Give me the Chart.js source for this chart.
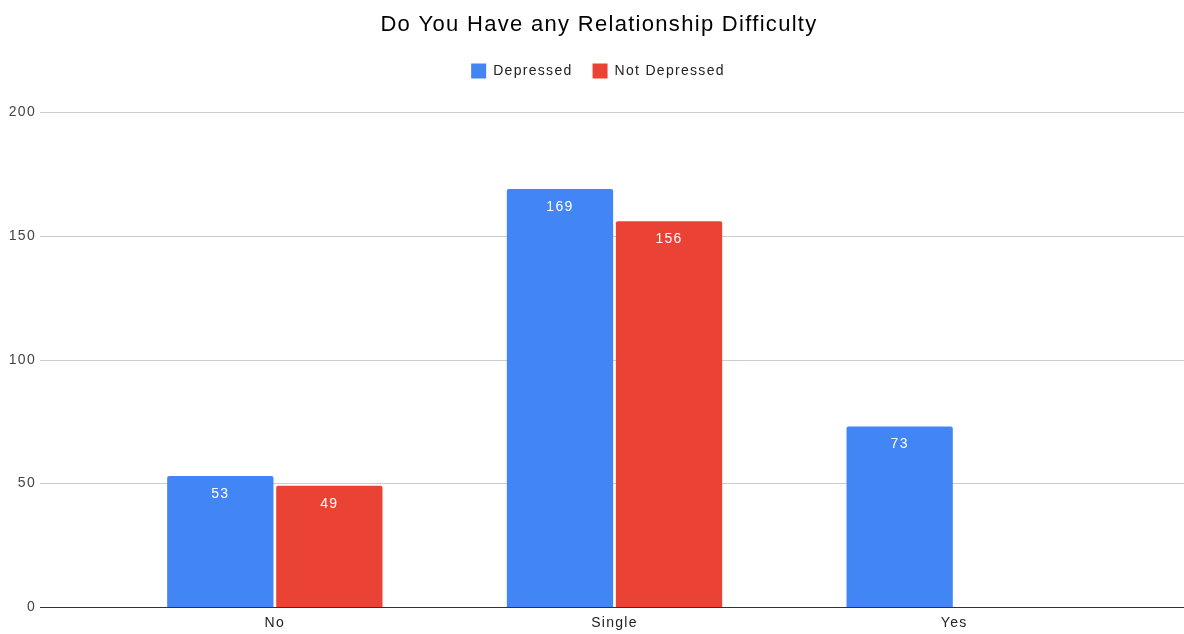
<!DOCTYPE html>
<html>
<head>
<meta charset="utf-8">
<script src="https://cdn.jsdelivr.net/npm/chart.js@4.4.1/dist/chart.umd.min.js"></script>
<style>
  html, body { margin: 0; padding: 0; background: #fff; }
  #wrap { width: 1184px; height: 634px; }
</style>
</head>
<body>
<div id="wrap"><canvas id="chart" width="1184" height="634"></canvas></div>
<script>
// Chart data
const categories = ['No', 'Single', 'Yes'];
const depressed = [53, 169, 73];
const notDepressed = [49, 156, null];
const yTicks = [0, 50, 100, 150, 200];

const FONT = '"Liberation Sans", Arial, sans-serif';
const SPACING = '1.3px';

// The original text is set a little wide
const wideText = {
    id: 'wideText',
    beforeLayout(chart) { chart.ctx.letterSpacing = SPACING; },
    beforeDraw(chart) { chart.ctx.letterSpacing = SPACING; }
};

// Title and legend sit a bit right of the canvas centre in the original
const nudgeHeader = {
    id: 'nudgeHeader',
    afterLayout(chart) {
        if (chart.titleBlock) chart.titleBlock.left += 14;
        if (chart.legend) chart.legend.left += 12;
    }
};

// Grid lines that run the full width, like the original
const fullGrid = {
    id: 'fullGrid',
    beforeDatasetsDraw(chart) {
        const ctx = chart.ctx;
        const y = chart.scales.y;
        ctx.save();
        yTicks.forEach(v => {
            const py = Math.round(y.getPixelForValue(v)) + 0.5;
            ctx.strokeStyle = v === 0 ? '#333333' : '#cccccc';
            ctx.lineWidth = 1;
            ctx.beginPath();
            ctx.moveTo(40, py);
            ctx.lineTo(1184, py);
            ctx.stroke();
        });
        ctx.restore();
    }
};

// Value labels inside the top of each bar
const barLabels = {
    id: 'barLabels',
    afterDatasetsDraw(chart) {
        const ctx = chart.ctx;
        ctx.save();
        ctx.font = '14px ' + FONT;
        ctx.fillStyle = '#ffffff';
        ctx.textAlign = 'center';
        ctx.textBaseline = 'middle';
        chart.data.datasets.forEach((ds, i) => {
            chart.getDatasetMeta(i).data.forEach((bar, j) => {
                const v = ds.data[j];
                if (v === null || v === undefined) return;
                ctx.fillText(String(v), bar.x, bar.y + 18);
            });
        });
        ctx.restore();
    }
};

const ctx = document.getElementById('chart').getContext('2d');
new Chart(ctx, {
    type: 'bar',
    data: {
        labels: categories,
        datasets: [{
            label: 'Depressed',
            data: depressed,
            backgroundColor: '#4285f4',
            borderRadius: 2,
            borderSkipped: 'bottom',
            categoryPercentage: 0.642,
            barPercentage: 0.975
        }, {
            label: 'Not Depressed',
            data: notDepressed,
            backgroundColor: '#ea4335',
            borderRadius: 2,
            borderSkipped: 'bottom',
            categoryPercentage: 0.642,
            barPercentage: 0.975
        }]
    },
    options: {
        responsive: false,
        animation: false,
        layout: {
            padding: { left: 0, right: 0, top: 0, bottom: 2 }
        },
        plugins: {
            title: {
                display: true,
                text: 'Do You Have any Relationship Difficulty',
                color: '#000000',
                font: { family: FONT, size: 22, weight: 'normal' },
                padding: { top: 12, bottom: 5 }
            },
            legend: {
                position: 'top',
                labels: {
                    color: '#222222',
                    font: { family: FONT, size: 14 },
                    boxWidth: 15,
                    boxHeight: 15,
                    padding: 20
                }
            },
            tooltip: { enabled: false }
        },
        scales: {
            x: {
                afterFit(scale) { scale.height = 25; },
                grid: { display: false, drawTicks: false },
                border: { display: false },
                ticks: {
                    color: '#222222',
                    font: { family: FONT, size: 14 },
                    padding: 8
                }
            },
            // empty strip between the legend and the plot
            xTop: {
                position: 'top',
                afterFit(scale) { scale.height = 24; },
                grid: { display: false, drawTicks: false },
                border: { display: false },
                ticks: { display: false }
            },
            y: {
                min: 0,
                max: 200,
                afterFit(scale) {
                    scale.width = 105;
                    scale.paddingTop = 0;
                    scale.paddingBottom = 0;
                },
                afterBuildTicks(scale) {
                    scale.ticks = yTicks.map(v => ({ value: v }));
                },
                grid: { display: false, drawTicks: false },
                border: { display: false },
                ticks: {
                    color: '#444444',
                    font: { family: FONT, size: 14 },
                    padding: 69
                }
            },
            // empty right-hand strip so the plot ends where the original does
            yRight: {
                position: 'right',
                min: 0,
                max: 200,
                afterFit(scale) {
                    scale.width = 60;
                    scale.paddingTop = 0;
                    scale.paddingBottom = 0;
                },
                grid: { display: false, drawTicks: false },
                border: { display: false },
                ticks: { display: false }
            }
        }
    },
    plugins: [wideText, nudgeHeader, fullGrid, barLabels]
});
</script>
</body>
</html>
